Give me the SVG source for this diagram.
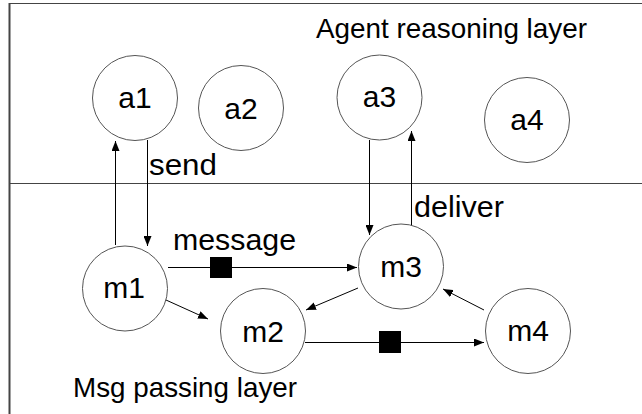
<svg xmlns="http://www.w3.org/2000/svg" width="642" height="414" viewBox="0 0 642 414">
  <style>
    .frame { stroke: #444; fill: none; }
    .node circle { fill: #fff; stroke: #555; stroke-width: 1; }
    .node text, .label { font-family: "Liberation Sans", Arial, sans-serif; font-size: 30px; fill: #000; }
    .title { font-size: 28px; }
    .node text { text-anchor: middle; }
    .edge { stroke: #000; stroke-width: 1; fill: none; marker-end: url(#arrow); }
    .token { fill: #000; }
  </style>
  <defs>
    <marker id="arrow" viewBox="0 0 10 8" refX="10" refY="4" markerWidth="10" markerHeight="8" markerUnits="userSpaceOnUse" orient="auto">
      <path d="M0,0 L10,4 L0,8 z" fill="#000"/>
    </marker>
  </defs>

  <rect width="642" height="414" fill="#fff"/>

  <!-- frame and layer divider -->
  <g id="frame">
    <line class="frame" x1="9" y1="3.5" x2="642" y2="3.5" stroke-width="1"/>
    <line class="frame" x1="9.5" y1="3" x2="9.5" y2="414" stroke-width="2"/>
    <line class="frame" x1="9" y1="183.5" x2="642" y2="183.5" stroke-width="1"/>
  </g>

  <!-- layer titles and edge labels -->
  <g id="labels">
    <text class="label title" x="316" y="38" textLength="271" lengthAdjust="spacingAndGlyphs">Agent reasoning layer</text>
    <text class="label title" x="73" y="397" textLength="224" lengthAdjust="spacingAndGlyphs">Msg passing layer</text>
    <text class="label" x="149" y="175" textLength="68" lengthAdjust="spacingAndGlyphs">send</text>
    <text class="label" x="414" y="217" textLength="90" lengthAdjust="spacingAndGlyphs">deliver</text>
    <text class="label" x="173" y="250" textLength="123" lengthAdjust="spacingAndGlyphs">message</text>
  </g>

  <!-- connectors -->
  <g id="connectors">
    <line class="edge" x1="115.5" y1="245" x2="115.5" y2="141"/>
    <line class="edge" x1="147.5" y1="140" x2="147.5" y2="246"/>
    <line class="edge" x1="369.5" y1="140" x2="369.5" y2="235"/>
    <line class="edge" x1="411.5" y1="226" x2="411.5" y2="131"/>
    <line class="edge" x1="168" y1="267.5" x2="357" y2="267.5"/>
    <line class="edge" x1="166" y1="300" x2="208" y2="319"/>
    <line class="edge" x1="358" y1="288" x2="306" y2="310"/>
    <line class="edge" x1="484" y1="310" x2="443" y2="289"/>
    <line class="edge" x1="305" y1="342.5" x2="484" y2="342.5"/>
    <rect class="token" x="210" y="257" width="22" height="21"/>
    <rect class="token" x="379" y="331" width="22" height="22"/>
  </g>

  <!-- agent layer nodes -->
  <g id="a1" class="node"><circle cx="135" cy="98" r="42.5"/><text x="135" y="108">a1</text></g>
  <g id="a2" class="node"><circle cx="241" cy="108" r="42.5"/><text x="241" y="119">a2</text></g>
  <g id="a3" class="node"><circle cx="379.5" cy="97.5" r="42.5"/><text x="379.5" y="107">a3</text></g>
  <g id="a4" class="node"><circle cx="527" cy="120" r="42.5"/><text x="527" y="130">a4</text></g>

  <!-- message passing layer nodes -->
  <g id="m1" class="node"><circle cx="125" cy="288.5" r="42.5"/><text x="124" y="298">m1</text></g>
  <g id="m2" class="node"><circle cx="263" cy="331" r="42.5"/><text x="263" y="342">m2</text></g>
  <g id="m3" class="node"><circle cx="401" cy="266.5" r="42.5"/><text x="401" y="277">m3</text></g>
  <g id="m4" class="node"><circle cx="528" cy="331" r="42.5"/><text x="528" y="341">m4</text></g>
</svg>
